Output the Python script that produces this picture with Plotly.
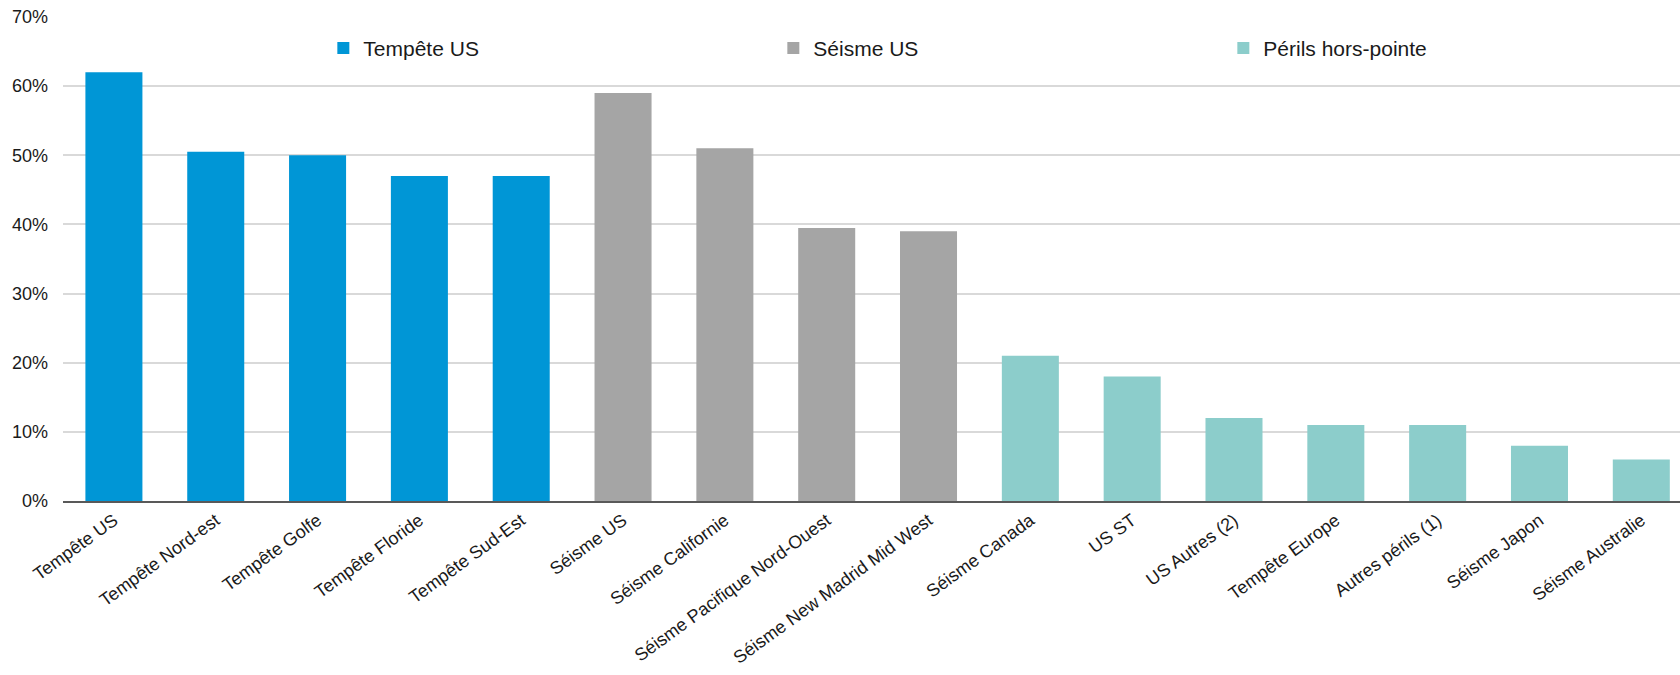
import plotly.graph_objects as go

categories = ["Tempête US", "Tempête Nord-est", "Tempête Golfe", "Tempête Floride", "Tempête Sud-Est",
              "Séisme US", "Séisme Californie", "Séisme Pacifique Nord-Ouest", "Séisme New Madrid Mid West",
              "Séisme Canada", "US ST", "US Autres (2)", "Tempête Europe", "Autres périls (1)",
              "Séisme Japon", "Séisme Australie"]

storm_cats = categories[0:5]
storm_vals = [0.62, 0.505, 0.50, 0.47, 0.47]

quake_cats = categories[5:9]
quake_vals = [0.59, 0.51, 0.395, 0.39]

offpeak_cats = categories[9:16]
offpeak_vals = [0.21, 0.18, 0.12, 0.11, 0.11, 0.08, 0.06]

series_names = ["Tempête US", "Séisme US", "Périls hors-pointe"]
colors = ["#0096D6", "#A5A5A5", "#8CCDCB"]

y_ticks = [0, 0.1, 0.2, 0.3, 0.4, 0.5, 0.6, 0.7]

fig = go.Figure()
for name, cats, vals, col in zip(series_names,
                                 [storm_cats, quake_cats, offpeak_cats],
                                 [storm_vals, quake_vals, offpeak_vals], colors):
    fig.add_trace(go.Bar(x=cats, y=vals, name=name, marker_color=col,
                         marker_line_width=0))

fig.update_layout(
    width=1680, height=675,
    margin=dict(l=63, r=0, t=17, b=174, autoexpand=False),
    plot_bgcolor="white", paper_bgcolor="white",
    barmode="overlay", bargap=0.44,
    font=dict(family="Liberation Sans, Arial, sans-serif", size=18, color="#1a1a1a"),
    legend=dict(orientation="h", x=0.161, y=0.935, xanchor="left", yanchor="middle",
                font=dict(size=21, color="#1a1a1a"),
                entrywidth=405, entrywidthmode="pixels", itemwidth=30,
                bgcolor="rgba(0,0,0,0)"),
    showlegend=True,
)
fig.update_xaxes(type="category", categoryorder="array", categoryarray=categories,
                 range=[-0.5, 15.38], tickangle=-36, showgrid=False,
                 showline=True, linecolor="#595959", linewidth=2,
                 ticks="", automargin=False, tickfont=dict(size=18, color="#1a1a1a"))
fig.update_yaxes(range=[0, 0.7], tickvals=y_ticks, tickformat=".0%",
                 showgrid=True, gridcolor="#D9D9D9", gridwidth=1.5,
                 zeroline=False, showline=False, ticks="", automargin=False,
                 ticklabelstandoff=14,
                 tickfont=dict(size=18, color="#1a1a1a"))

fig.write_html("out.html")
